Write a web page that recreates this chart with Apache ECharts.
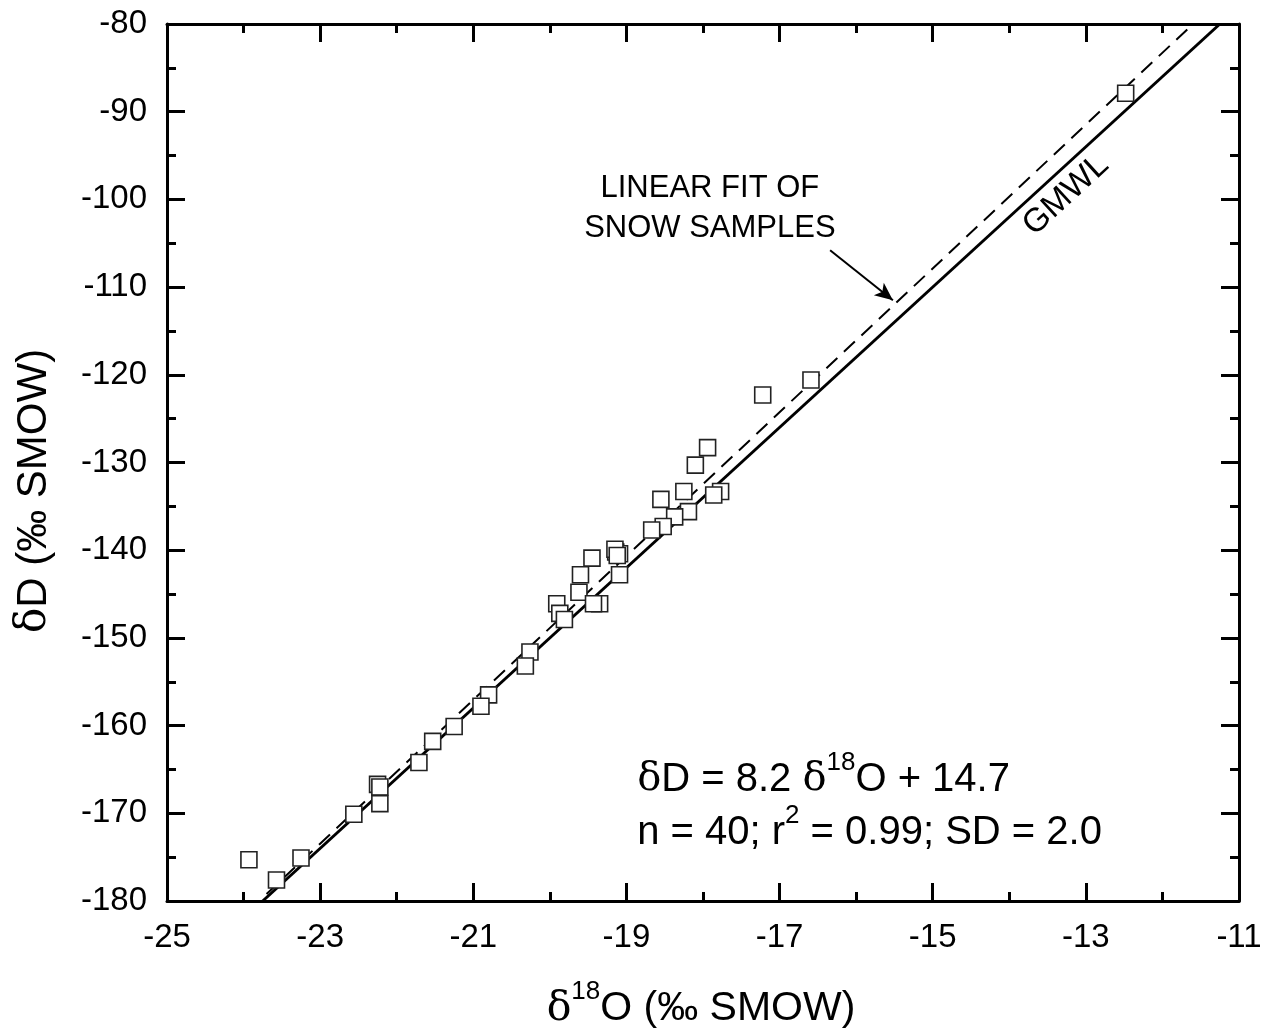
<!DOCTYPE html>
<html>
<head>
<meta charset="utf-8">
<script src="https://cdn.jsdelivr.net/npm/echarts@6/dist/echarts.min.js"></script>
<style>html,body{margin:0;padding:0;background:#fff}#c{width:1273px;height:1036px}</style>
</head>
<body>
<div id="c"></div>
<script>
// Snow samples: delta18O and deltaD (per mil SMOW)
const d18O = [-12.48, -16.59, -17.22, -17.94, -18.10, -18.25, -18.55, -17.77, -17.86, -18.19,
  -18.37, -18.52, -18.67, -19.14, -19.09, -19.15, -19.12, -19.45, -19.09, -19.60,
  -19.62, -19.91, -19.35, -19.43, -19.87, -19.81, -20.26, -20.32, -20.80, -20.90,
  -21.25, -21.53, -21.71, -22.25, -22.22, -22.22, -22.56, -23.25, -23.57, -23.93];
const dD = [-87.9, -120.6, -122.3, -128.3, -130.3, -133.3, -134.2, -133.3, -133.7, -135.6,
  -136.2, -137.3, -137.7, -140.2, -140.4, -139.9, -140.6, -140.9, -142.8, -142.8,
  -144.8, -146.1, -146.1, -146.1, -147.2, -147.9, -151.6, -153.2, -156.5, -157.8,
  -160.1, -161.8, -164.2, -166.7, -167.0, -168.9, -170.1, -175.1, -177.6, -175.3];
// Global meteoric water line endpoints (solid)
const gmwlX = [-23.75, -11.25];
const gmwlY = [-180, -80];
// Linear fit of snow samples endpoints (dashed)
const fitX = [-23.70, -11.60];
const fitY = [-179.2, -80];
// Arrow annotation (from, to) in data units
const arrowFrom = [-16.34, -105.8];
const arrowTo = [-15.52, -111.5];
// Text anchors in data units
const fitLabelPos = [-17.91, -101.0];
const gmwlLabelPos = [-13.26, -99.5];
const eqPos = [-18.86, -166.2];
const statPos = [-18.86, -172.25];
const xTicks = [-25, -11, 2];
const yTicks = [-180, -80, 10];

const FONT = '"Liberation Sans", Arial, sans-serif';
const SERIF = '"DejaVu Serif","Liberation Serif",serif';
const chart = echarts.init(document.getElementById('c'), null, {renderer: 'canvas'});

function axisCommon(show) {
  return {
    axisLine: {show: true, onZero: false, lineStyle: {color: '#000', width: 3}},
    axisTick: {show: true, inside: true, length: 18, lineStyle: {color: '#000', width: 3}},
    minorTick: {show: true, splitNumber: 2, length: 9, lineStyle: {color: '#000', width: 3}},
    splitLine: {show: false},
    axisLabel: {show: show, color: '#000', fontSize: 33, fontFamily: FONT, margin: 20}
  };
}

const pts = d18O.map((x, i) => [x, dD[i]]);

chart.setOption({
  animation: false,
  backgroundColor: '#fff',
  grid: {left: 167, right: 34, top: 24, bottom: 135, containLabel: false},
  xAxis: [
    Object.assign({type: 'value', position: 'bottom', min: xTicks[0], max: xTicks[1], interval: xTicks[2]}, axisCommon(true)),
    Object.assign({type: 'value', position: 'top', min: xTicks[0], max: xTicks[1], interval: xTicks[2]}, axisCommon(false))
  ],
  yAxis: [
    Object.assign({type: 'value', position: 'left', min: yTicks[0], max: yTicks[1], interval: yTicks[2]}, axisCommon(true)),
    Object.assign({type: 'value', position: 'right', min: yTicks[0], max: yTicks[1], interval: yTicks[2]}, axisCommon(false))
  ],
  series: [
    {type: 'line', name: 'GMWL', data: gmwlX.map((x, i) => [x, gmwlY[i]]), showSymbol: false, symbol: 'none',
      lineStyle: {color: '#000', width: 3}, z: 2},
    {type: 'line', name: 'Fit', data: fitX.map((x, i) => [x, fitY[i]]), showSymbol: false, symbol: 'none',
      lineStyle: {color: '#000', width: 2, type: [15, 9]}, z: 2,
      markLine: {silent: true, symbol: ['none', 'arrow'], symbolSize: [12, 18], label: {show: false},
        lineStyle: {color: '#000', width: 2, type: 'solid'},
        data: [[{coord: arrowFrom}, {coord: arrowTo}]]}},
    {type: 'scatter', name: 'Snow', data: pts, symbol: 'rect', symbolSize: 16,
      itemStyle: {color: '#fff', borderColor: '#222', borderWidth: 1.6, opacity: 1}, z: 3}
  ]
});

const mctx = document.createElement('canvas').getContext('2d');
function seq(list, x0, yc, align) {
  const widths = list.map(s => { mctx.font = s.font; return mctx.measureText(s.text).width; });
  const total = widths.reduce((a, b) => a + b, 0);
  let x = align === 'center' ? x0 - total / 2 : x0;
  return list.map((s, i) => {
    const el = {type: 'text', x: x, y: yc + (s.dy || 0), z: 10,
      style: {text: s.text, font: s.font, fill: '#000', align: 'left', verticalAlign: 'middle'}};
    x += widths[i];
    return el;
  });
}

function px(p) { return chart.convertToPixel({gridIndex: 0}, p); }
const fl = px(fitLabelPos), gl = px(gmwlLabelPos), eq = px(eqPos), st = px(statPos);
const MF = 40, SF = 26, SUP = -17;
const mainF = MF + 'px ' + FONT, serF = MF + 'px ' + SERIF, supF = SF + 'px ' + FONT;
const axF = '41px ' + FONT, axS = '41px ' + SERIF, axSup = '26px ' + FONT;

const graphics = [
  {type: 'text', x: fl[0], y: fl[1], z: 10,
    style: {text: 'LINEAR FIT OF\nSNOW SAMPLES', fill: '#000', font: '31px ' + FONT, align: 'center', verticalAlign: 'middle', lineHeight: 40}},
  {type: 'text', x: gl[0], y: gl[1], rotation: 42.5 * Math.PI / 180, z: 10,
    style: {text: 'GMWL', fill: '#000', font: '33px ' + FONT, align: 'center', verticalAlign: 'middle'}},
  {type: 'text', x: 34, y: 491, rotation: Math.PI / 2, z: 10,
    style: {text: '{d|δ}{n|D (‰ SMOW)}', align: 'center', verticalAlign: 'middle',
      rich: {d: {font: '42px ' + SERIF, fill: '#000'}, n: {font: '42px ' + FONT, fill: '#000'}}}}
]
.concat(seq([
  {text: 'δ', font: serF}, {text: 'D = 8.2 ', font: mainF}, {text: 'δ', font: serF},
  {text: '18', font: supF, dy: SUP}, {text: 'O + 14.7', font: mainF}], eq[0], eq[1], 'left'))
.concat(seq([
  {text: 'n = 40; r', font: mainF}, {text: '2', font: supF, dy: SUP},
  {text: ' = 0.99; SD = 2.0', font: mainF}], st[0], st[1], 'left'))
.concat(seq([
  {text: 'δ', font: axS}, {text: '18', font: axSup, dy: -17}, {text: 'O (‰ SMOW)', font: axF}], 701, 1009, 'center'));

chart.setOption({graphic: graphics});
</script>
</body>
</html>
